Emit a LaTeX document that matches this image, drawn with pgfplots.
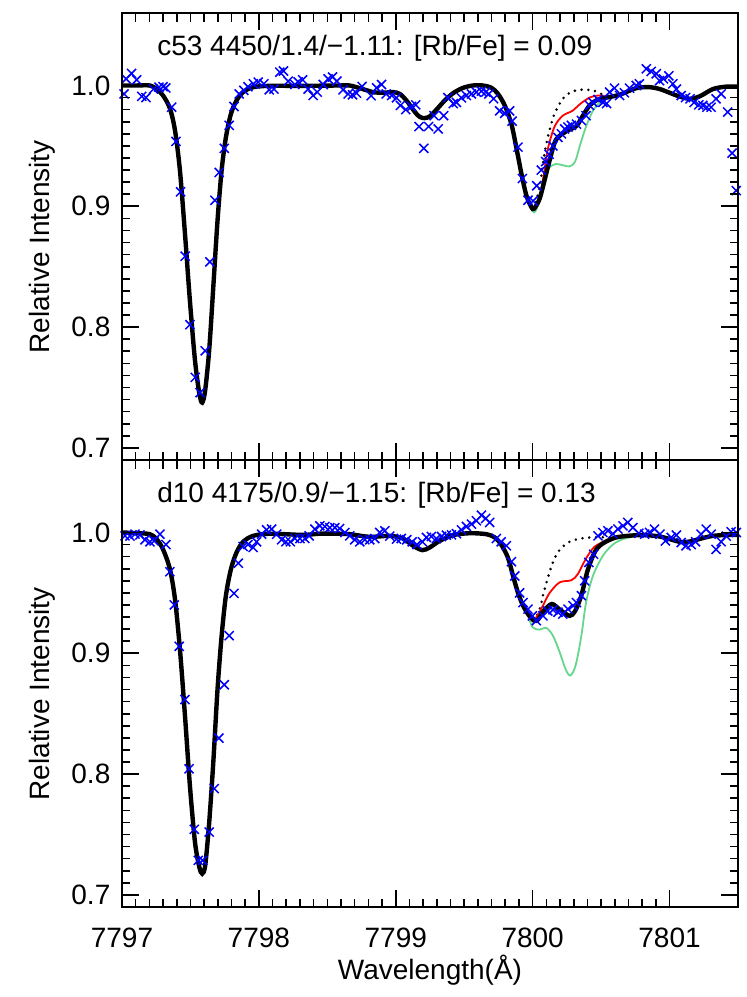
\documentclass[border=0pt]{standalone}
\usepackage{fontspec}
\setmainfont{Liberation Sans}
\usepackage{pgfplots}
\pgfplotsset{compat=1.18}
\definecolor{mygreen}{RGB}{100,215,140}
\pgfplotsset{
 base/.style={width=308pt, height=223.5pt, scale only axis, xmin=7797, xmax=7801.5, ymin=0.69, ymax=1.06},
 tk/.style={xtick={7797,7798,7799,7800,7801}, minor x tick num=9, ytick={0.7,0.8,0.9,1.0}, minor y tick num=9, scaled x ticks=false, scaled y ticks=false},
 tl/.style={major tick length=8.5pt, minor tick length=4.25pt, every tick/.style={draw=black, line width=0.8pt}, xtick align=inside, ytick align=inside},
 fmt/.style={tick label style={font=\fontsize{14}{16}\selectfont}, /pgf/number format/assume math mode=true,
  x tick label style={/pgf/number format/1000 sep={}, anchor=center, yshift=-15.5pt},
  y tick label style={/pgf/number format/fixed, /pgf/number format/fixed zerofill, /pgf/number format/precision=1, xshift=-2.3pt}},
 lab/.style={axis line style={line width=1pt}, label style={font=\fontsize{14}{16}\selectfont},
  ylabel={Relative Intensity}, ylabel style={at={(axis description cs:-0.13,0.477)}, anchor=center}},
 crosses/.style={only marks, mark=x, mark size=3.2pt, color=blue, mark options={line width=0.75pt}},
 dotline/.style={black, line width=1.4pt, line cap=round, dash pattern=on 0pt off 3.4pt, smooth},
 redline/.style={red, line width=0.9pt, smooth},
 greenline/.style={mygreen, line width=0.9pt, smooth},
 blackline/.style={black, line width=2.2pt, smooth},
}
\begin{document}
\begin{tikzpicture}
% ---------------- top panel ----------------
\begin{axis}[base, tk, tl, fmt, lab, at={(0,0)}, anchor=south west, xticklabels={}]
\addplot[crosses] coordinates {
(7797.015,0.993) (7797.03,1.0055) (7797.07,1.010) (7797.107,1.0047) (7797.144,0.991)
(7797.175,0.990) (7797.23,0.997) (7797.27,0.9986) (7797.30,0.999) (7797.32,0.998)
(7797.363,0.982) (7797.394,0.9537) (7797.428,0.912) (7797.462,0.8587) (7797.496,0.802)
(7797.535,0.7584) (7797.57,0.7457) (7797.608,0.7804) (7797.642,0.854) (7797.679,0.905)
(7797.71,0.928) (7797.747,0.948) (7797.783,0.967) (7797.818,0.9826) (7797.856,0.993)
(7797.89,0.996) (7797.92,0.999) (7797.96,1.0014) (7797.995,1.0028) (7798.036,1.0014)
(7798.075,0.9964) (7798.11,0.997) (7798.153,1.011) (7798.18,1.012) (7798.214,1.0036)
(7798.263,1.0008) (7798.287,1.003) (7798.32,1.0047) (7798.36,0.997) (7798.396,0.9917)
(7798.426,0.9945) (7798.47,1.0008) (7798.506,1.0055) (7798.538,1.007) (7798.57,1.0036)
(7798.615,0.9964) (7798.652,0.993) (7798.684,0.9923) (7798.713,0.9937) (7798.754,0.9992)
(7798.82,0.9915) (7798.86,0.998) (7798.896,1.0008) (7798.93,0.993) (7798.97,0.9917)
(7799.005,0.9898) (7799.034,0.9835) (7799.073,0.980) (7799.115,0.9826) (7799.146,0.984)
(7799.17,0.966) (7799.205,0.948) (7799.24,0.966) (7799.28,0.975) (7799.31,0.964)
(7799.35,0.975) (7799.38,0.990) (7799.42,0.985) (7799.443,0.986) (7799.48,0.9898)
(7799.516,0.9917) (7799.553,0.993) (7799.589,0.9945) (7799.626,0.9953) (7799.657,0.9945)
(7799.68,0.993) (7799.715,0.989) (7799.759,0.979) (7799.796,0.977) (7799.832,0.979)
(7799.85,0.9705) (7799.893,0.949) (7799.925,0.923) (7799.966,0.905) (7800.003,0.9044)
(7800.03,0.917) (7800.063,0.930) (7800.095,0.937) (7800.12,0.943) (7800.148,0.950)
(7800.185,0.957) (7800.21,0.960) (7800.234,0.964) (7800.258,0.9656) (7800.283,0.967)
(7800.32,0.968) (7800.356,0.971) (7800.39,0.975) (7800.416,0.9835) (7800.44,0.986)
(7800.477,0.9884) (7800.513,0.986) (7800.54,0.985) (7800.562,0.9945) (7800.598,0.9978)
(7800.635,0.9917) (7800.67,0.994) (7800.708,0.9978) (7800.757,1.000) (7800.78,1.0014)
(7800.83,1.0138) (7800.866,1.0116) (7800.903,1.0097) (7800.927,1.004) (7800.956,1.0055)
(7800.995,1.008) (7801.024,1.0014) (7801.05,0.997) (7801.085,0.9917) (7801.117,0.990)
(7801.15,0.989) (7801.18,0.986) (7801.214,0.984) (7801.243,0.9835) (7801.273,0.982)
(7801.304,0.982) (7801.34,0.989) (7801.377,0.993) (7801.425,0.978) (7801.457,0.944)
(7801.487,0.913)
};
\addplot[dotline] coordinates {
(7800.01,0.898) (7800.05,0.915) (7800.075,0.935) (7800.10,0.952) (7800.14,0.970)
(7800.17,0.979) (7800.22,0.989) (7800.28,0.9945) (7800.35,0.9965) (7800.44,0.996)
(7800.50,0.993) (7800.54,0.990)
};
\addplot[greenline] coordinates {
(7799.96,0.906) (7800.01,0.895) (7800.05,0.905) (7800.08,0.924) (7800.12,0.932)
(7800.17,0.935) (7800.22,0.934) (7800.27,0.933) (7800.31,0.937) (7800.35,0.952)
(7800.39,0.966) (7800.44,0.979) (7800.50,0.987) (7800.56,0.9895)
};
\addplot[redline] coordinates {
(7800.01,0.898) (7800.05,0.907) (7800.08,0.925) (7800.11,0.947) (7800.16,0.966)
(7800.22,0.975) (7800.29,0.979) (7800.35,0.985) (7800.416,0.990) (7800.48,0.9917)
(7800.53,0.991) (7800.56,0.9897)
};
\addplot[blackline] coordinates {
(7797.0,1.000) (7797.10,1.000) (7797.204,1.000) (7797.253,0.997) (7797.30,0.9917)
(7797.35,0.981) (7797.387,0.963) (7797.423,0.930) (7797.46,0.8774) (7797.496,0.822)
(7797.533,0.7727) (7797.565,0.745) (7797.586,0.7375) (7797.608,0.748) (7797.637,0.781)
(7797.667,0.8333) (7797.698,0.8884) (7797.728,0.930) (7797.759,0.957) (7797.796,0.9766)
(7797.837,0.9876) (7797.885,0.9945) (7797.958,0.9986) (7798.08,0.9997) (7798.32,0.9997)
(7798.59,1.000) (7798.664,1.000) (7798.76,0.997) (7798.834,0.9945) (7798.907,0.994)
(7798.98,0.9945) (7799.03,0.993) (7799.078,0.9876) (7799.14,0.978) (7799.175,0.974)
(7799.21,0.973) (7799.248,0.9744) (7799.297,0.980) (7799.358,0.9876) (7799.42,0.9937)
(7799.49,0.998) (7799.564,1.000) (7799.637,1.000) (7799.70,0.998) (7799.747,0.993)
(7799.796,0.9835) (7799.845,0.968) (7799.88,0.949) (7799.918,0.927) (7799.954,0.909)
(7799.99,0.8994) (7800.01,0.898) (7800.05,0.906) (7800.088,0.922) (7800.124,0.938)
(7800.17,0.955) (7800.245,0.962) (7800.32,0.9665) (7800.367,0.975) (7800.416,0.9835)
(7800.47,0.988) (7800.54,0.990) (7800.635,0.9923) (7800.757,0.9978) (7800.854,0.9986)
(7800.93,0.997) (7801.0,0.994) (7801.07,0.991) (7801.146,0.989) (7801.22,0.991)
(7801.316,0.997) (7801.41,0.999) (7801.5,0.999)
};
\node[anchor=west, inner sep=0pt, font=\fontsize{14}{16}\selectfont] at (axis cs:7797.255,1.031) {c53 4450/1.4/−1.11: [Rb/Fe] = 0.09};
\end{axis}
% ---------------- bottom panel ----------------
\begin{axis}[base, tk, tl, fmt, lab, at={(0,0)}, anchor=north west,
  xlabel={Wavelength(Å)},
  xlabel style={at={(axis description cs:0.5,-0.141)}, anchor=center}]
\addplot[crosses] coordinates {
(7797.022,0.9972) (7797.058,0.997) (7797.095,0.9986) (7797.131,0.998) (7797.168,0.994)
(7797.204,0.9923) (7797.235,0.993) (7797.277,0.9986) (7797.321,0.990) (7797.35,0.9675)
(7797.382,0.940) (7797.418,0.9058) (7797.46,0.8617) (7797.49,0.8044) (7797.528,0.7543)
(7797.557,0.7286) (7797.589,0.7286) (7797.637,0.752) (7797.674,0.788) (7797.708,0.8298)
(7797.747,0.874) (7797.783,0.9146) (7797.818,0.9496) (7797.85,0.9746) (7797.885,0.9884)
(7797.92,0.990) (7797.958,0.9876) (7797.983,0.9923) (7798.02,0.9986) (7798.056,1.0022)
(7798.093,1.0028) (7798.13,0.9986) (7798.166,0.994) (7798.197,0.9923) (7798.23,0.9923)
(7798.263,0.995) (7798.30,0.995) (7798.336,0.995) (7798.367,0.9972) (7798.409,1.0028)
(7798.445,1.0055) (7798.482,1.005) (7798.518,1.004) (7798.555,1.004) (7798.59,1.0033)
(7798.628,1.000) (7798.664,0.9972) (7798.70,0.994) (7798.737,0.9923) (7798.774,0.994)
(7798.81,0.994) (7798.847,0.995) (7798.883,1.000) (7798.92,1.0014) (7798.956,0.997)
(7799.005,0.9945) (7799.04,0.995) (7799.08,0.994) (7799.12,0.9923) (7799.155,0.990)
(7799.195,0.9923) (7799.224,0.9959) (7799.26,0.9967) (7799.297,0.995) (7799.334,0.9967)
(7799.37,0.9978) (7799.407,0.998) (7799.443,0.999) (7799.48,1.0022) (7799.516,1.005)
(7799.553,1.0069) (7799.589,1.0097) (7799.626,1.0143) (7799.657,1.0116) (7799.686,1.0083)
(7799.735,0.995) (7799.77,0.9923) (7799.808,0.989) (7799.845,0.9758) (7799.869,0.964)
(7799.905,0.950) (7799.93,0.942) (7799.966,0.9366) (7799.998,0.931) (7800.027,0.927)
(7800.075,0.931) (7800.11,0.935) (7800.148,0.936) (7800.185,0.934) (7800.22,0.9325)
(7800.258,0.9366) (7800.295,0.9394) (7800.32,0.942) (7800.356,0.9477) (7800.38,0.960)
(7800.41,0.9752) (7800.445,0.982) (7800.477,0.9972) (7800.513,1.000) (7800.55,1.0014)
(7800.586,0.999) (7800.623,1.0028) (7800.66,1.0055) (7800.695,1.0083) (7800.732,1.004)
(7800.776,0.9994) (7800.818,0.9986) (7800.854,1.000) (7800.89,1.0028) (7800.93,0.9986)
(7800.97,0.993) (7801.012,0.9959) (7801.05,0.9978) (7801.085,0.9917) (7801.12,0.989)
(7801.158,0.990) (7801.19,0.9923) (7801.23,0.9986) (7801.268,1.0028) (7801.304,0.9986)
(7801.34,0.986) (7801.377,0.9923) (7801.414,0.997) (7801.45,1.0006) (7801.487,1.000)
};
\addplot[dotline] coordinates {
(7800.01,0.927) (7800.05,0.936) (7800.08,0.950) (7800.11,0.962) (7800.15,0.976)
(7800.20,0.986) (7800.27,0.9923) (7800.35,0.995) (7800.44,0.996) (7800.52,0.996)
(7800.60,0.996)
};
\addplot[greenline] coordinates {
(7799.96,0.933) (7800.0,0.9215) (7800.05,0.9196) (7800.1,0.921) (7800.148,0.9146)
(7800.197,0.901) (7800.24,0.887) (7800.275,0.8816) (7800.314,0.890) (7800.356,0.9146)
(7800.39,0.942) (7800.44,0.964) (7800.513,0.9807) (7800.586,0.990) (7800.66,0.9945)
(7800.75,0.997)
};
\addplot[redline] coordinates {
(7800.01,0.927) (7800.045,0.933) (7800.075,0.9394) (7800.124,0.950) (7800.197,0.9587)
(7800.283,0.9605) (7800.33,0.9656) (7800.39,0.9785) (7800.45,0.988) (7800.53,0.993)
(7800.60,0.996)
};
\addplot[blackline] coordinates {
(7797.0,1.000) (7797.10,0.9995) (7797.204,0.9986) (7797.253,0.9945) (7797.30,0.986)
(7797.35,0.9697) (7797.387,0.9449) (7797.423,0.9036) (7797.46,0.8485) (7797.496,0.7906)
(7797.533,0.7438) (7797.565,0.723) (7797.586,0.7176) (7797.608,0.7245) (7797.637,0.760)
(7797.667,0.8099) (7797.698,0.8705) (7797.728,0.9146) (7797.759,0.9477) (7797.796,0.9697)
(7797.837,0.9835) (7797.885,0.9923) (7797.958,0.9972) (7798.08,0.999) (7798.32,0.998)
(7798.445,0.999) (7798.59,0.999) (7798.664,0.9986) (7798.81,0.9964) (7798.956,0.9972)
(7799.053,0.995) (7799.126,0.989) (7799.195,0.9854) (7799.248,0.9876) (7799.32,0.993)
(7799.418,0.9978) (7799.54,0.9994) (7799.662,0.9986) (7799.723,0.9959) (7799.77,0.990)
(7799.82,0.979) (7799.857,0.964) (7799.893,0.950) (7799.93,0.9394) (7799.966,0.9325)
(7800.01,0.927) (7800.04,0.928) (7800.08,0.935) (7800.14,0.9408) (7800.20,0.936)
(7800.27,0.931) (7800.31,0.935) (7800.356,0.948) (7800.40,0.968) (7800.45,0.983)
(7800.50,0.990) (7800.61,0.9959) (7800.78,0.9978) (7800.927,0.9967) (7801.073,0.9923)
(7801.146,0.9925) (7801.316,0.9972) (7801.5,0.998)
};
\node[anchor=west, inner sep=0pt, font=\fontsize{14}{16}\selectfont] at (axis cs:7797.255,1.031) {d10 4175/0.9/−1.15: [Rb/Fe] = 0.13};
\end{axis}
% ---------------- tick overlays ----------------
\begin{axis}[base, tk, tl, at={(0,0)}, anchor=south west, xticklabels={}, yticklabels={}, axis line style={line width=1pt}]
\end{axis}
\begin{axis}[base, tk, tl, at={(0,0)}, anchor=north west, xticklabels={}, yticklabels={}, axis line style={line width=1pt}]
\end{axis}
\pgfresetboundingbox
\path[use as bounding box] (-61pt,-268.5pt) rectangle (312.5pt,230pt);
\end{tikzpicture}
\end{document}
